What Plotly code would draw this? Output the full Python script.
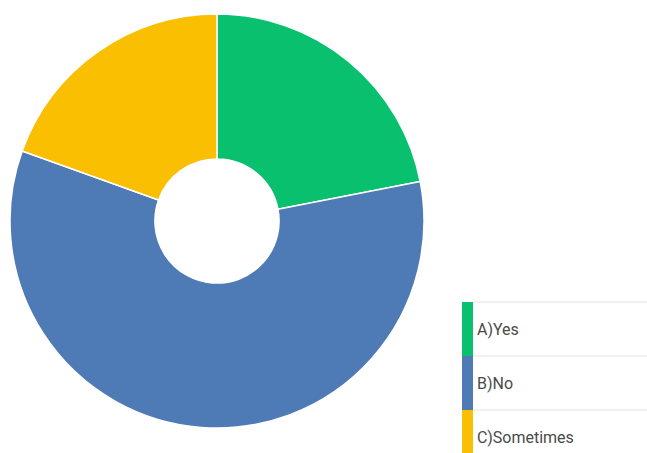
import plotly.graph_objects as go

# Survey answers
categories = ["A)Yes", "B)No", "C)Sometimes"]
counts = [9, 24, 8]
colors = ["#08C06E", "#4E7AB6", "#FABF00"]

W, H = 647, 453


def px(x):
    return x / W


def py(y):
    return 1 - y / H


fig = go.Figure(
    go.Pie(
        labels=categories,
        values=counts,
        hole=0.3,
        sort=False,
        direction="clockwise",
        rotation=0,
        marker=dict(colors=colors, line=dict(color="white", width=1.5)),
        textinfo="none",
        hoverinfo="label+percent",
        showlegend=False,
        domain=dict(x=[px(10), px(424)], y=[py(428), py(14)]),
    )
)

# Custom list-style legend at the lower right
shapes = []
annotations = []
row_top, row_h = 302, 54
bar_x0, bar_x1 = 462, 473
for i, (cat, col) in enumerate(zip(categories, colors)):
    y0 = row_top + i * row_h
    y1 = y0 + row_h
    shapes.append(dict(type="rect", xref="paper", yref="paper",
                       x0=px(bar_x0), x1=px(bar_x1), y0=py(y1), y1=py(y0),
                       fillcolor=col, line=dict(width=0), layer="above"))
    shapes.append(dict(type="line", xref="paper", yref="paper",
                       x0=px(bar_x1), x1=1.0, y0=py(y0), y1=py(y0),
                       line=dict(color="#E3E3E3", width=1)))
    annotations.append(dict(text=cat, xref="paper", yref="paper",
                            x=px(475), y=py(y0 + 27), xanchor="left", yanchor="middle",
                            showarrow=False,
                            font=dict(family="Roboto", size=16, color="#4A4A4A")))

fig.update_layout(
    width=W, height=H,
    margin=dict(l=0, r=0, t=0, b=0),
    paper_bgcolor="white",
    plot_bgcolor="white",
    shapes=shapes,
    annotations=annotations,
)

fig.write_html("out.html")
